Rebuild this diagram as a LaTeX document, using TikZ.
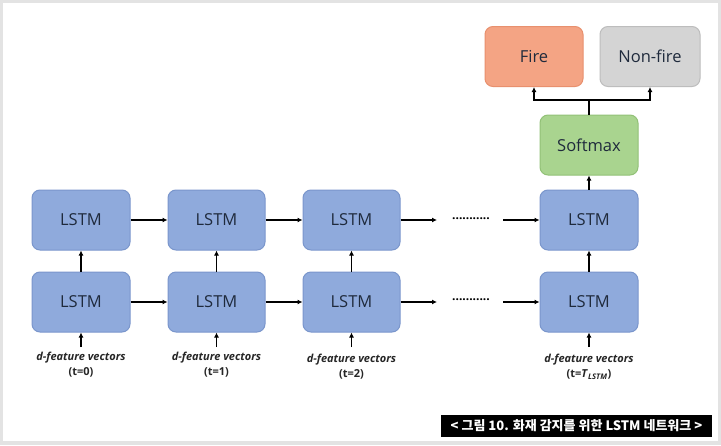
\documentclass[tikz,border=0pt]{standalone}
\usepackage{fontspec}
\setmainfont{Open Sans}
\newfontfamily\krfont{Noto Sans CJK KR}
\usetikzlibrary{arrows.meta}
\definecolor{lstmfill}{HTML}{8FAADC}
\definecolor{lstmdraw}{HTML}{7A96CC}
\definecolor{firefill}{HTML}{F4A484}
\definecolor{firedraw}{HTML}{E8906E}
\definecolor{nffill}{HTML}{D4D4D4}
\definecolor{nfdraw}{HTML}{BDBDBD}
\definecolor{smfill}{HTML}{A9D48F}
\definecolor{smdraw}{HTML}{92C177}
\definecolor{framegray}{HTML}{E3E3E3}
\definecolor{boxtext}{HTML}{1F2A3C}
\begin{document}
\begin{tikzpicture}[x=1pt,y=-1pt,
  box/.style={rounded corners=8pt, minimum width=98pt, minimum height=60pt, inner sep=0pt, font=\fontsize{16.5}{18}\selectfont, text=boxtext},
  lstm/.style={box, fill=lstmfill, draw=lstmdraw, line width=1pt},
  conn/.style={line width=1.6pt, -{Latex[length=5pt,width=5pt]}},
  lab/.style={align=center, font=\fontsize{11}{15}\selectfont\bfseries, text=black!85}]
\fill[framegray] (0,0) rectangle (721,445);
\fill[white] (3,3) rectangle (718,441);
\useasboundingbox (0,0) rectangle (721,445);
% top boxes
\node[box, fill=firefill, draw=firedraw, line width=1pt] (fire) at (534,56.5) {Fire};
\node[box, fill=nffill, draw=nfdraw, line width=1pt, minimum width=100pt] (nf) at (650,56.5) {Non-fire};
\node[box, fill=smfill, draw=smdraw, line width=1pt] (sm) at (589,145) {Softmax};
% LSTM grid
\node[lstm] (t1) at (81,220) {LSTM};
\node[lstm, minimum width=97pt] (t2) at (216.5,220) {LSTM};
\node[lstm, minimum width=97pt] (t3) at (351.5,220) {LSTM};
\node[lstm] (t4) at (589,220) {LSTM};
\node[lstm] (b1) at (81,302) {LSTM};
\node[lstm, minimum width=97pt] (b2) at (216.5,302) {LSTM};
\node[lstm, minimum width=97pt] (b3) at (351.5,302) {LSTM};
\node[lstm] (b4) at (589,302) {LSTM};
% labels
\node[lab] (l1) at (81,365) {\textit{d-feature vectors}\\(t=0)};
\node[lab] (l2) at (216.5,365) {\textit{d-feature vectors}\\(t=1)};
\node[lab] (l3) at (351.5,367) {\textit{d-feature vectors}\\(t=2)};
\node[lab] (l4) at (589,367) {\textit{d-feature vectors}\\(t=\textit{T}\textsubscript{\textit{LSTM}})};
% dots
\node[font=\fontsize{12}{12}\selectfont] (d1) at (471,219) {\textbf{...........}};
\node[font=\fontsize{12}{12}\selectfont] (d2) at (471,300) {\textbf{...........}};
% horizontal arrows
\draw[conn] (t1) -- (t2);
\draw[conn] (t2) -- (t3);
\draw[conn] (b1) -- (b2);
\draw[conn] (b2) -- (b3);
\draw[conn] (t3.east) -- (t3.east -| 437,0);
\draw[conn, line width=2.4pt] (b3.east) -- (b3.east -| 437,0);
\draw[conn] (t4.west -| 503,0) -- (t4.west);
\draw[conn] (b4.west -| 503,0) -- (b4.west);
% vertical arrows
\foreach \i in {1,2,3,4} {
  \draw[conn] (b\i) -- (t\i);
  \draw[conn] (b\i.south |- 0,347) -- (b\i.south);
}
\draw[conn] (t4) -- (sm);
\coordinate (j) at (589,100);
\draw[line width=1.6pt] (sm.north) -- (j);
\draw[conn] (j) -| (fire.south);
\draw[conn] (j) -| (nf.south);
% caption
\node[fill=black, text=white, inner sep=0pt, minimum width=271pt, minimum height=22pt, font=\krfont\bfseries\fontsize{13}{15}\selectfont] (cap) at (576.5,426) {< 그림 10. 화재 감지를 위한 LSTM 네트워크 >};
\end{tikzpicture}
\end{document}
